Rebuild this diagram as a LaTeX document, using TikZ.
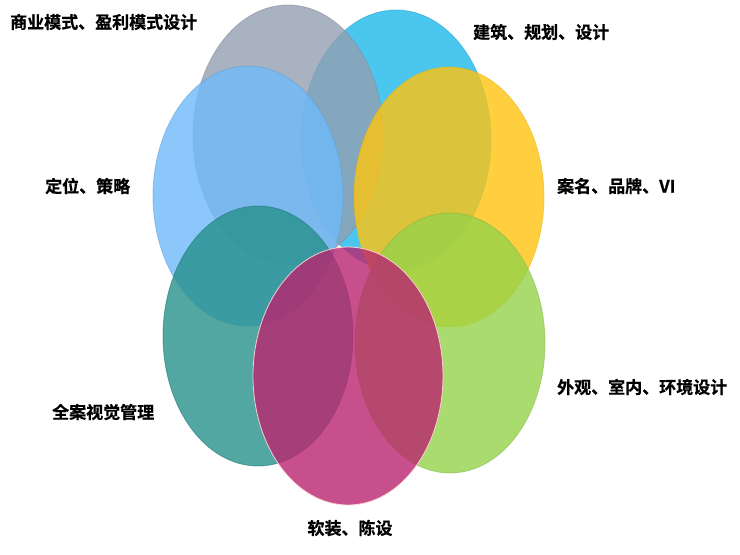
\documentclass[tikz,border=0pt]{standalone}
\usepackage{fontspec}
\newfontfamily\cjk{Noto Sans CJK SC}[BoldFont={Noto Sans CJK SC Bold},BoldFeatures={FakeBold=0.6}]
\usetikzlibrary{shapes.geometric}
\definecolor{cgray}{RGB}{147,159,177}
\definecolor{ccyan}{RGB}{30,186,236}
\definecolor{clblue}{RGB}{111,186,249}
\definecolor{cyellow}{RGB}{255,196,16}
\definecolor{cteal}{RGB}{40,145,140}
\definecolor{cgreen}{RGB}{149,211,74}
\definecolor{cmag}{RGB}{186,36,111}
\tikzset{
  petal/.style={ellipse, minimum width=190pt, minimum height=260pt, inner sep=0pt, fill opacity=0.8, line width=0.8pt},
  lbl/.style={font=\cjk\bfseries\fontsize{17}{20}\selectfont, text=black, inner sep=0pt}
}
\begin{document}
\begin{tikzpicture}[x=1pt,y=-1pt]
\useasboundingbox (0,0) rectangle (740,555);
\fill[white] (0,0) rectangle (740,555);
\node[petal, fill=ccyan, draw=ccyan!85!black, draw opacity=0.5] (cyan) at (396,140) {};
\node[petal, fill=cgray, draw=cgray!85!black, draw opacity=0.5] (gray) at (288,135) {};
\node[petal, fill=clblue, draw=clblue!85!black, draw opacity=0.5] (lblue) at (248,196) {};
\node[petal, fill=cyellow, draw=cyellow!90!black, draw opacity=0.5] (yellow) at (449,197) {};
\node[petal, fill=cteal, draw=cteal!85!black, draw opacity=0.6] (teal) at (258,336) {};
\node[petal, fill=cgreen, draw=cgreen!85!black, draw opacity=0.5] (green) at (450,343) {};
\node[petal, fill=cmag, draw=pink!60!white, draw opacity=0.9, minimum height=258pt] (mag) at (348,376) {};
\node[lbl, anchor=west] (t1) at (10,22) {商业模式、盈利模式设计};
\node[lbl, anchor=west] (t2) at (473,32) {建筑、规划、设计};
\node[lbl, anchor=west] (t3) at (45,186) {定位、策略};
\node[lbl, anchor=west] (t4) at (557,186) {案名、品牌、VI};
\node[lbl, anchor=west] (t5) at (52,412) {全案视觉管理};
\node[lbl, anchor=west] (t6) at (557,387) {外观、室内、环境设计};
\node[lbl, anchor=center] (t7) at (350,528) {软装、陈设};
\end{tikzpicture}
\end{document}
